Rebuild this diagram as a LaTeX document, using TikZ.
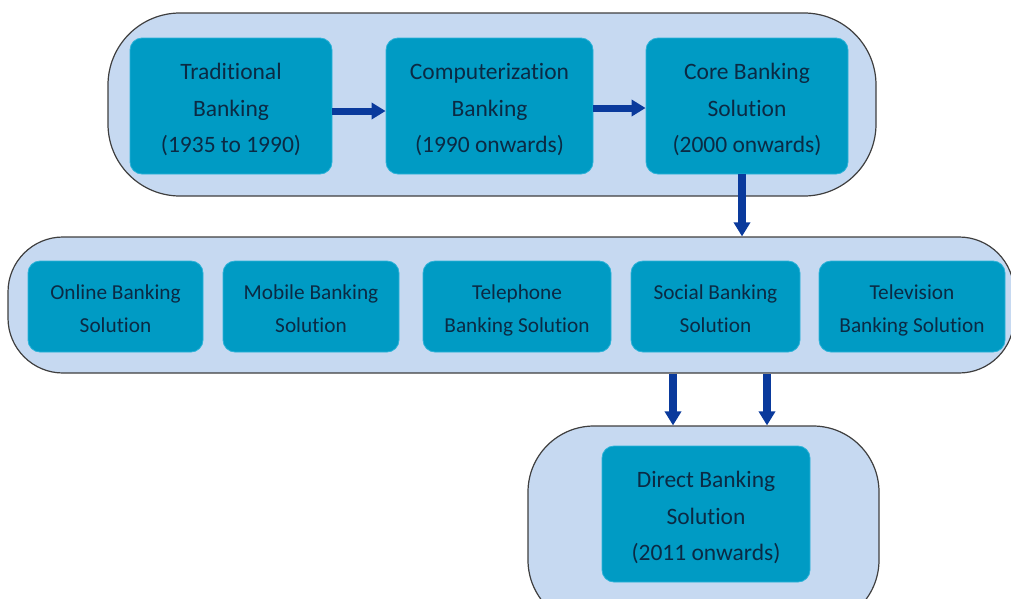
\documentclass[tikz,border=0pt]{standalone}
\usepackage{fontspec}
\setmainfont{Carlito}[Ligatures={NoCommon}]
\usetikzlibrary{arrows.meta}
\definecolor{pillfill}{HTML}{C6D9F1}
\definecolor{pillline}{HTML}{3F3F3F}
\definecolor{boxfill}{HTML}{009BC4}
\definecolor{boxline}{HTML}{2CB2D8}
\definecolor{boxtext}{HTML}{0B2A44}
\definecolor{arrowblue}{HTML}{0A3A9C}
% struts that keep every label block the same height, set slightly low
\newcommand\firststrut{\rule{0pt}{\dimexpr0.7\baselineskip+3pt\relax}}
\newcommand\laststrut{\rule[\dimexpr-0.3\baselineskip+3pt\relax]{0pt}{0pt}}
\begin{document}
\begin{tikzpicture}[x=1pt,y=-1pt,
  pill/.style={draw=pillline, line width=1.2pt, fill=pillfill, inner sep=0pt},
  stage/.style={draw=boxline, line width=0.8pt, fill=boxfill, rounded corners=12pt,
    text=boxtext, align=center, inner sep=0pt},
  bigtext/.style={font=\fontsize{23.5}{36.5}\selectfont},
  smalltext/.style={font=\fontsize{21.3}{33}\selectfont},
  flow/.style={draw=arrowblue, line width=7pt,
    -{Triangle[length=14pt,width=16pt]}, shorten >=0pt}
]
\useasboundingbox (0,0) rectangle (1011,598);
\clip (0,0) rectangle (1011,598);

% background pills
\node[pill, rounded corners=72pt, minimum width=768pt, minimum height=183pt] (top) at (492,104.5) {};
\node[pill, rounded corners=55pt, minimum width=1006pt, minimum height=136pt] (band) at (511,305) {};
\node[pill, rounded corners=66pt, minimum width=351pt, minimum height=200pt] (bottom) at (703.5,526) {};

% first row: history of banking
\node[stage, bigtext, minimum width=202pt, minimum height=136pt] (trad) at (231,106) {\firststrut Traditional\\Banking\\(1935 to 1990)\laststrut};
\node[stage, bigtext, minimum width=207pt, minimum height=136pt] (comp) at (489.5,106) {\firststrut Computerization\\Banking\\(1990 onwards)\laststrut};
\node[stage, bigtext, minimum width=202pt, minimum height=136pt] (core) at (747,106) {\firststrut Core Banking\\Solution\\(2000 onwards)\laststrut};

% second row: delivery channels
\node[stage, smalltext, minimum width=175pt, minimum height=91pt] (online) at (115.5,306.5) {\firststrut Online Banking\\Solution\laststrut};
\node[stage, smalltext, minimum width=176pt, minimum height=91pt] (mobile) at (311,306.5) {\firststrut Mobile Banking\\Solution\laststrut};
\node[stage, smalltext, minimum width=188pt, minimum height=91pt] (phone) at (517,306.5) {\firststrut Telephone\\Banking Solution\laststrut};
\node[stage, smalltext, minimum width=169pt, minimum height=91pt] (social) at (715.5,306.5) {\firststrut Social Banking\\Solution\laststrut};
\node[stage, smalltext, minimum width=186pt, minimum height=91pt] (tv) at (912,306.5) {\firststrut Television\\Banking Solution\laststrut};

% third row
\node[stage, bigtext, minimum width=208pt, minimum height=136pt] (direct) at (706,514) {\firststrut Direct Banking\\Solution\\(2011 onwards)\laststrut};

% connectors
\draw[flow] ([yshift=-5pt]trad.east) -- ([yshift=-5pt]comp.west);
\draw[flow] ([yshift=-2pt]comp.east) -- ([yshift=-2pt]core.west);
\draw[flow, line width=8pt] ([xshift=-5pt]core.south) -- ([xshift=-5pt]core.south |- band.north);
\draw[flow, line width=8pt] ([xshift=-42.5pt]social.south |- band.south) -- ([xshift=-42.5pt]social.south |- bottom.north);
\draw[flow, line width=8pt] ([xshift=51.5pt]social.south |- band.south) -- ([xshift=51.5pt]social.south |- bottom.north);
\end{tikzpicture}
\end{document}
